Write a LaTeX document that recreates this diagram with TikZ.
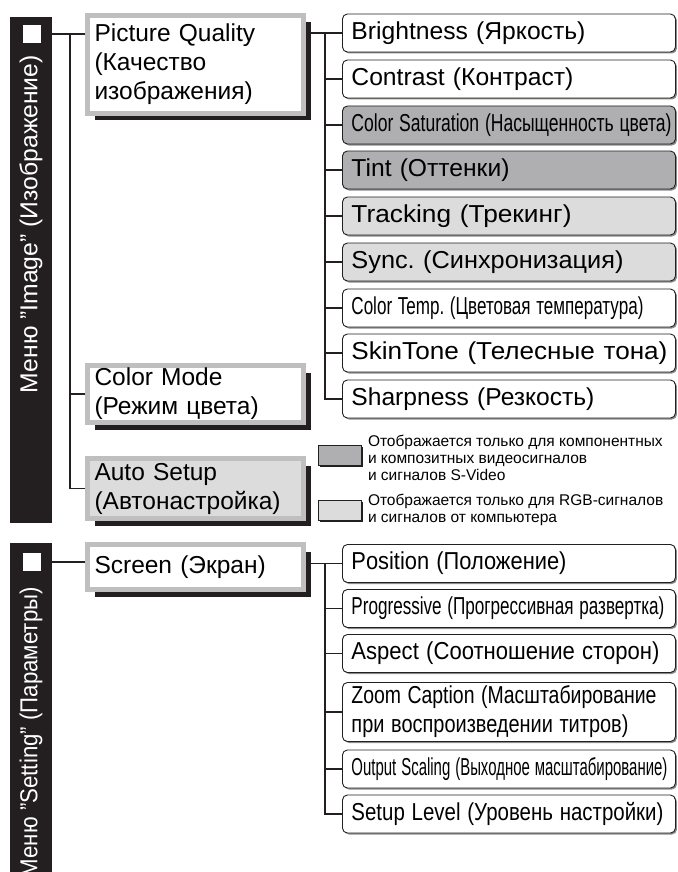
\documentclass[tikz,border=0pt]{standalone}
\usepackage{fontspec}
\setmainfont{Liberation Sans}
\usetikzlibrary{positioning,shadows,backgrounds}
\definecolor{barink}{HTML}{231F20}
\definecolor{framegray}{HTML}{BFBFBF}
\definecolor{darkfill}{HTML}{AFAFB1}
\definecolor{lightfill}{HTML}{DCDCDC}
\definecolor{edgegray}{HTML}{8C8C8C}
% squeeze a text to the width it has in the layout
\newcommand{\fitw}[2]{\resizebox{#1pt}{\height}{#2}}
\frenchspacing
\tikzset{
  bigtext/.style={font=\fontsize{24.5}{29}\selectfont},
  menubar/.style={fill=barink,minimum width=42pt,anchor=north west,inner sep=0pt},
  menutitle/.style={rotate=90,anchor=east,inner sep=0pt,text=white,
    font=\fontsize{24.5}{28}\selectfont},
  whitesq/.style={fill=white,minimum size=18pt,inner sep=0pt},
  groupbox/.style={draw=framegray,line width=5pt,fill=white,anchor=north west,
    text width=202pt,inner xsep=7pt,inner ysep=0pt,align=left,bigtext,
    general shadow={fill=barink,shadow xshift=7pt,shadow yshift=-7pt}},
  itembox/.style={draw=barink,line width=.9pt,rounded corners=5pt,fill=white,
    anchor=west,text width=315pt,inner xsep=9pt,minimum height=38pt,align=left,bigtext,
    general shadow={fill=edgegray,shadow xshift=1.5pt,shadow yshift=-1.5pt}},
  whitebox/.style={fill=white},
  darkbox/.style={fill=darkfill},
  lightbox/.style={fill=lightfill},
  keybox/.style={draw=barink,line width=.8pt,anchor=north west,minimum width=43pt,
    minimum height=20pt,general shadow={fill=barink,shadow xshift=2pt,shadow yshift=-2pt}},
  keytext/.style={align=left,inner sep=0pt,font=\fontsize{15.5}{17}\selectfont},
  branch/.style={draw=barink,line width=1.6pt}
}

\begin{document}
\begin{tikzpicture}[x=1pt,y=-1pt]
\useasboundingbox (0,0) rectangle (677,872);
\coordinate (ltrunk) at (70,0);
\coordinate (rtrunk) at (325,0);
% menu "Image"
\node[menubar,minimum height=506pt] (imgbar) at (10,17) {};
\node[whitesq] (imgsq) at (32,34) {};
\node[menutitle] at (31,55) {\fitw{338}{Меню "Image" (Изображение)}};
\node[groupbox,minimum height=98pt] (pq) at (85,13) {Picture Quality\\(Качество\\изображения)};
\node[groupbox,minimum height=57pt] (cm) at (85,363) {Color Mode\\(Режим цвета)};
\node[groupbox,lightbox,minimum height=60pt] (as) at (85,456) {Auto Setup\\(Автонастройка)};
\foreach \n/\y/\fil/\w/\txt in {1/33/whitebox/234/Brightness (Яркость),
    2/79/whitebox/222/Contrast (Контраст),
    3/125/darkbox/320/Color Saturation (Насыщенность цвета),
    4/170/darkbox/158/Tint (Оттенки),
    5/216/lightbox/220/Tracking (Трекинг),
    6/262/lightbox/272/Sync. (Синхронизация),
    7/308/whitebox/292/Color Temp. (Цветовая температура),
    8/353/whitebox/316/SkinTone (Телесные тона),
    9/399/whitebox/243/Sharpness (Резкость)}
  \node[itembox,\fil] (it\n) at (342,\y) {\fitw{\w}{\txt}};
% legend
\node[keybox,darkbox] (keydark) at (318,445) {};
\node[keybox,lightbox] (keylight) at (318,500) {};
\node[keytext,right=6pt of keydark,yshift=-2pt] (keydarktxt)
  {Отображается только для компонентных\\и композитных видеосигналов\\и сигналов S-Video};
\node[keytext,right=6pt of keylight] (keylighttxt)
  {Отображается только для RGB-сигналов\\и сигналов от компьютера};
% menu "Setting"
\node[menubar,minimum height=340pt] (setbar) at (10,543) {};
\node[whitesq] (setsq) at (32,562) {};
\node[menutitle] at (31,587) {\fitw{290}{Меню "Setting" (Параметры)}};
\node[groupbox,minimum height=45pt] (scr) at (85,542) {Screen (Экран)};
\foreach \n/\y/\w/\txt in {1/563.5/215/Position (Положение),
    2/608.5/313/Progressive (Прогрессивная развертка),
    3/653.5/308/Aspect (Соотношение сторон),
    5/769/316/Output Scaling (Выходное масштабирование),
    6/814/312/Setup Level (Уровень настройки)}
  \node[itembox] (st\n) at (342,\y) {\fitw{\w}{\txt}};
\node[itembox,minimum height=59pt] (st4) at (342,712)
  {\fitw{305}{Zoom Caption (Масштабирование}\\\fitw{277}{при воспроизведении титров)}};
% tree lines
\begin{scope}[on background layer]
\draw[branch] (imgsq -| imgbar.east) -- (imgsq -| pq.west);
\draw[branch] (imgsq -| ltrunk) |- (as.west);
\draw[branch] (cm.west -| ltrunk) -- (cm.west);
\draw[branch] (pq.east |- it1.west) -- (it1.west);
\draw[branch] (it1.west -| rtrunk) |- (it9.west);
\foreach \n in {2,...,8} \draw[branch] (it\n.west -| rtrunk) -- (it\n.west);
\draw[branch] (setsq -| setbar.east) -- (setsq -| scr.west);
\draw[branch] (scr.east |- st1.west) -- (st1.west);
\draw[branch] (st1.west -| rtrunk) |- (st6.west);
\foreach \n in {2,...,5} \draw[branch] (st\n.west -| rtrunk) -- (st\n.west);
\end{scope}
\end{tikzpicture}
\end{document}
